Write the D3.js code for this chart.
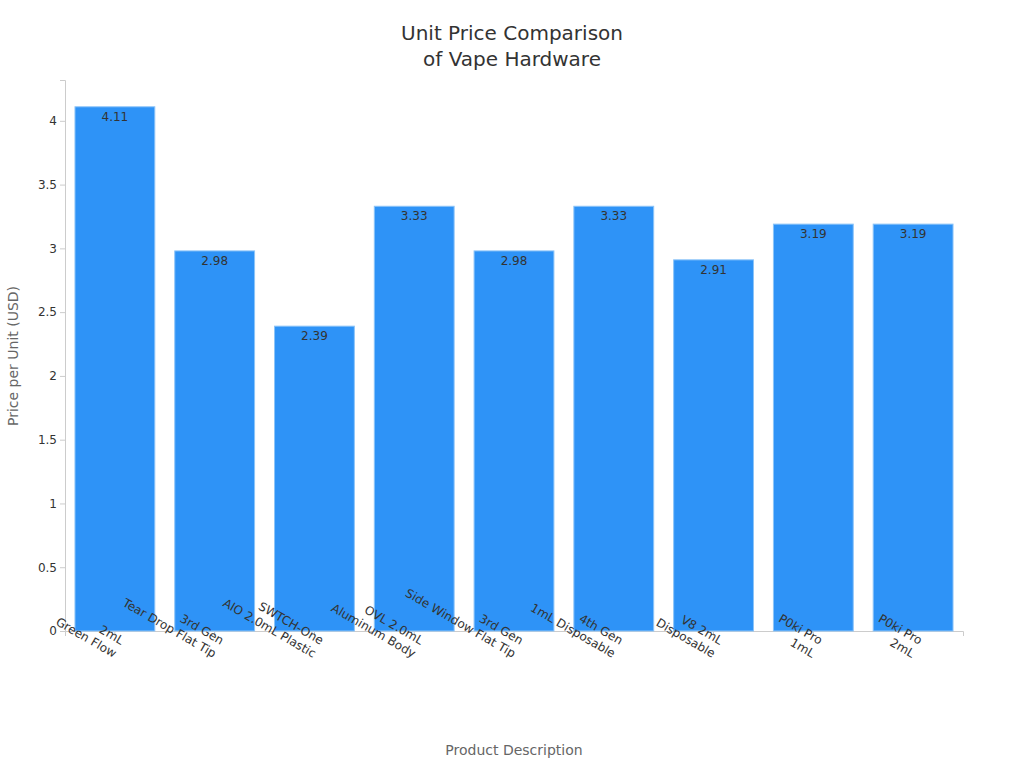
<!DOCTYPE html>
<html><head><meta charset="utf-8">
<script src="https://cdn.jsdelivr.net/npm/d3@7"></script>
<style>body{margin:0;background:#fff;font-family:"DejaVu Sans",sans-serif;}</style>
</head><body><svg id="c" width="1024" height="768"></svg>
<script>
const categories = [["2mL","Green Flow"],["3rd Gen","Tear Drop Flat Tip"],["SWTCH-One","AIO 2.0mL Plastic"],["OVL 2.0mL","Aluminum Body"],["3rd Gen","Side Window Flat Tip"],["4th Gen","1mL Disposable"],["V8 2mL","Disposable"],["P0ki Pro","1mL"],["P0ki Pro","2mL"]];
const values = [4.11,2.98,2.39,3.33,2.98,3.33,2.91,3.19,3.19];
const yTicks = [0,0.5,1,1.5,2,2.5,3,3.5,4];

const svg = d3.select("#c");
const m = {l:65, r:963, t:80, b:631};
const x = d3.scaleBand().domain(d3.range(values.length)).range([m.l,m.r]).paddingInner(0.2).paddingOuter(0.1);
const y = d3.scaleLinear().domain([0,4.32]).range([m.b,m.t]);

svg.append("text").attr("x",512).attr("y",40).attr("text-anchor","middle").attr("font-size",20).attr("fill","#333").text("Unit Price Comparison");
svg.append("text").attr("x",512).attr("y",66).attr("text-anchor","middle").attr("font-size",20).attr("fill","#333").text("of Vape Hardware");

const ya = svg.append("g").attr("transform",`translate(${m.l},0)`).call(d3.axisLeft(y).tickValues(yTicks).tickFormat(d3.format("~g")).tickSize(5));
ya.selectAll("text").attr("font-size",12).attr("fill","#333").attr("font-family","DejaVu Sans");
ya.selectAll("line,path").attr("stroke","#ccc");

const xa = svg.append("g").attr("transform",`translate(0,${m.b})`).call(d3.axisBottom(x).tickFormat("").tickSize(5));
xa.selectAll("line,path").attr("stroke","#ccc");

svg.selectAll("rect.bar").data(values).join("rect").attr("class","bar")
 .attr("x",(d,i)=>x(i)).attr("width",x.bandwidth()).attr("y",d=>y(d)).attr("height",d=>y(0)-y(d))
 .attr("fill","#2e93f7").attr("stroke","#8cc4f8").attr("stroke-width",1);

svg.selectAll("text.val").data(values).join("text").attr("class","val")
 .attr("x",(d,i)=>x(i)+x.bandwidth()/2).attr("y",d=>y(d)+14).attr("text-anchor","middle")
 .attr("font-size",12).attr("fill","#333").text(d=>d.toFixed(2));

categories.forEach((c,i)=>{
  const cx = x(i)+x.bandwidth()/2+6, cy = m.b+14;
  const t = svg.append("text").attr("transform",`translate(${cx},${cy}) rotate(30)`).attr("text-anchor","end").attr("font-size",12).attr("fill","#333");
  c.forEach((s,k)=>t.append("tspan").attr("x",k===0?0:0).attr("dy",k===0?0:15).text(s));
});
// align second line: each line end-anchored
svg.selectAll("tspan").attr("text-anchor","end");

svg.append("text").attr("x",514).attr("y",755).attr("text-anchor","middle").attr("font-size",14).attr("fill","#666").text("Product Description");
svg.append("text").attr("transform","translate(18,356) rotate(-90)").attr("text-anchor","middle").attr("font-size",14).attr("fill","#666").text("Price per Unit (USD)");
</script></body></html>
